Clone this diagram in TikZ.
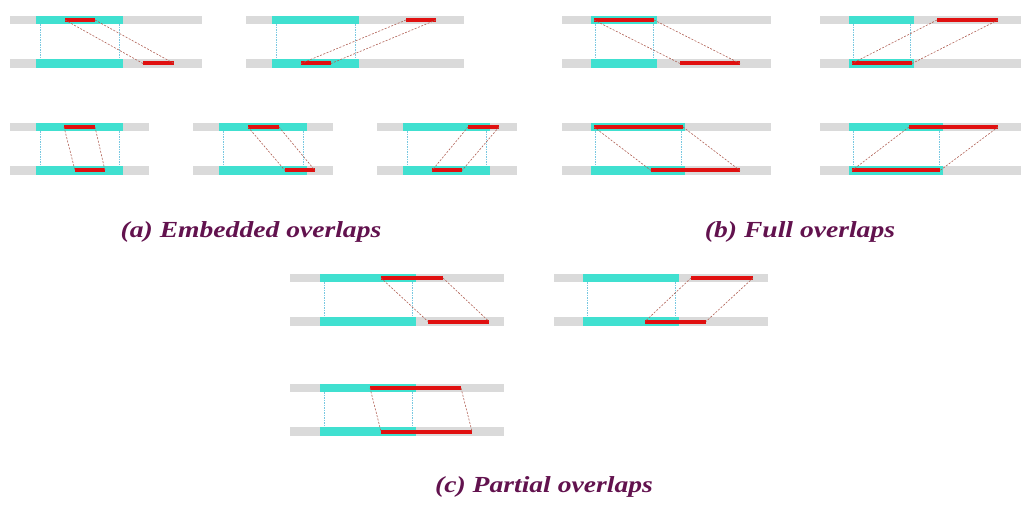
\documentclass[tikz,border=0pt]{standalone}
\usepackage{fontspec}
\setmainfont{Liberation Serif}
\definecolor{barGray}{RGB}{218,218,218}
\definecolor{readCyan}{RGB}{64,224,208}
\definecolor{readRed}{RGB}{224,16,16}
\definecolor{linkBrown}{RGB}{176,96,84}
\definecolor{guideBlue}{RGB}{120,200,225}
\definecolor{capPurple}{RGB}{98,18,78}
% one panel: #1,#2 gray bar ends, #3 top row y, #4,#5 cyan read, #6,#7 red top, #8,#9 red bottom
\newcommand{\ovpanel}[9]{%
  \fill[barGray] (#1,#3-4.25) rectangle (#2,#3+4.25);
  \fill[barGray] (#1,#3+39.25) rectangle (#2,#3+47.75);
  \fill[readCyan] (#4,#3-4.25) rectangle (#5,#3+4.25);
  \fill[readCyan] (#4,#3+39.25) rectangle (#5,#3+47.75);
  \draw[guide] (#4+4,#3+4.25) -- (#4+4,#3+39.25);
  \draw[guide] (#5-4,#3+4.25) -- (#5-4,#3+39.25);
  \draw[redbar] (#6,#3) coordinate (rtl) -- (#7,#3) coordinate (rtr);
  \draw[redbar] (#8,#3+43.5) coordinate (rbl) -- (#9,#3+43.5) coordinate (rbr);
  \draw[link] (rtl) -- (rbl);
  \draw[link] (rtr) -- (rbr);
}
\begin{document}
\begin{tikzpicture}[x=1pt,y=-1pt,
  guide/.style={guideBlue,line width=0.5pt,dash pattern=on 1.5pt off 1pt},
  redbar/.style={readRed,line width=4pt},
  link/.style={linkBrown,line width=0.6pt,dash pattern=on 2pt off 1.5pt},
  caption/.style={capPurple,xscale=1.2,font=\fontsize{23}{26}\selectfont\bfseries\itshape}]
  \useasboundingbox (0,0) rectangle (1021,508);
  %Embedded overlaps
  \ovpanel{10}{202}{20}{36}{123}{65}{95}{143}{174}
  \ovpanel{246}{464}{20}{272}{359}{406}{436}{301}{331}
  \ovpanel{10}{149}{127}{36}{123}{64}{95}{75}{105}
  \ovpanel{193}{333}{127}{219}{307}{248}{279}{285}{315}
  \ovpanel{377}{517}{127}{403}{490}{468}{499}{432}{462}
  %Full overlaps
  \ovpanel{562}{771}{20}{591}{657}{594}{654}{680}{740}
  \ovpanel{820}{1021}{20}{849}{914}{937}{998}{852}{912}
  \ovpanel{562}{771}{127}{591}{685}{594}{683}{651}{740}
  \ovpanel{820}{1021}{127}{849}{943}{909}{998}{852}{940}
  %Partial overlaps
  \ovpanel{290}{504}{278}{320}{416}{381}{443}{428}{489}
  \ovpanel{554}{768}{278}{583}{679}{691}{753}{645}{706}
  \ovpanel{290}{504}{388}{320}{416}{370}{461}{381}{472}
  %Captions
  \node[caption] (capA) at (251,232) {(a) Embedded overlaps};
  \node[caption] (capB) at (800,232) {(b) Full overlaps};
  \node[caption] (capC) at (544,487) {(c) Partial overlaps};
\end{tikzpicture}
\end{document}
